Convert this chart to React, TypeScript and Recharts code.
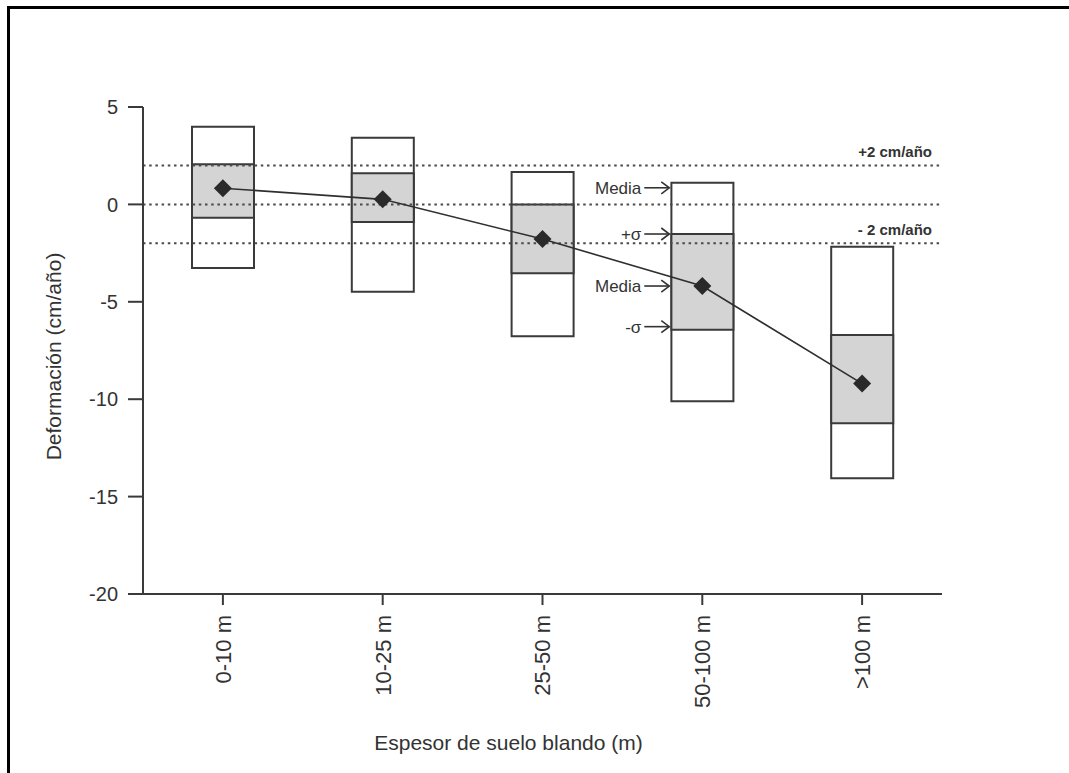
import { ComposedChart, Bar, Line, XAxis, YAxis, ReferenceLine, ReferenceDot } from 'recharts'

// soil thickness classes
const categories = ['0-10 m', '10-25 m', '25-50 m', '50-100 m', '>100 m']
// deformation (cm/año)
const maxValues = [3.99, 3.42, 1.66, 1.11, -2.17]
const plusSigma = [2.06, 1.6, 0.0, -1.52, -6.7]
const means = [0.83, 0.26, -1.78, -4.19, -9.2]
const minusSigma = [-0.68, -0.9, -3.53, -6.43, -11.23]
const minValues = [-3.26, -4.48, -6.77, -10.1, -14.06]

const yTicks = [5, 0, -5, -10, -15, -20]
const thresholds = [
  { value: 2, text: '+2 cm/año' },
  { value: 0, text: '' },
  { value: -2, text: '- 2 cm/año' },
]
// callouts next to the 50-100 m box
const noteCategory = '50-100 m'
const noteIdx = categories.indexOf(noteCategory)
const notes = [
  { text: 'Media', value: maxValues[noteIdx], shift: 5 },
  { text: '+σ', value: plusSigma[noteIdx], shift: 0 },
  { text: 'Media', value: means[noteIdx], shift: 0 },
  { text: '-σ', value: minusSigma[noteIdx], shift: -3 },
]

const data = categories.map((name, i) => ({
  name,
  range: [minValues[i], maxValues[i]],
  sigma: [minusSigma[i], plusSigma[i]],
  mean: means[i],
}))

const FONT = 'Arial, "Liberation Sans", Helvetica, sans-serif'
const INK = '#333'
const EDGE = '#3a3a3a'
const BOX_W = 62

const CategoryTick = (props: any) => {
  const { x, y, payload } = props
  return (
    <g transform={`translate(${x},${y + 8})`}>
      <text
        transform="rotate(-90)"
        textAnchor="end"
        dy="0.36em"
        fontSize={22}
        fontFamily={FONT}
        fill={INK}
      >
        {payload.value}
      </text>
    </g>
  )
}

const Diamond = (props: any) => {
  const { cx, cy, index } = props
  const r = 9
  return (
    <path
      key={`d-${index}`}
      d={`M${cx},${cy - r} L${cx + r},${cy} L${cx},${cy + r} L${cx - r},${cy} Z`}
      fill="#2a2a2a"
    />
  )
}

const Note = (text: string, shift: number) => (props: any) => {
  const { cx, cy } = props
  const left = cx - BOX_W / 2 - 2
  const y = cy + shift
  return (
    <g>
      <text x={left - 28} y={y} dy="0.36em" textAnchor="end" fontSize={17} fontFamily={FONT} fill={INK}>
        {text}
      </text>
      <line x1={left - 25} y1={y} x2={left} y2={y} stroke={INK} strokeWidth={1.6} />
      <path d={`M${left - 8},${y - 6} L${left},${y} L${left - 8},${y + 6}`} fill="none" stroke={INK} strokeWidth={1.6} />
    </g>
  )
}

const thresholdLabel = (text: string) => (props: any) => {
  const vb = props.viewBox || {}
  if (!text) return null
  return (
    <text
      x={vb.x + vb.width - 10}
      y={vb.y - 8}
      textAnchor="end"
      fontSize={15}
      fontWeight="bold"
      fontFamily={FONT}
      fill={INK}
    >
      {text}
    </text>
  )
}

const yTitle = (props: any) => {
  const vb = props.viewBox || {}
  const cx = vb.x - 10
  const cy = vb.y + vb.height / 2 + 6
  return (
    <text
      x={cx}
      y={cy}
      transform={`rotate(-90, ${cx}, ${cy})`}
      textAnchor="middle"
      dy="0.36em"
      fontSize={21}
      fontFamily={FONT}
      fill={INK}
    >
      Deformación (cm/año)
    </text>
  )
}

const xTitle = (props: any) => {
  const vb = props.viewBox || {}
  return (
    <text
      x={vb.x + vb.width / 2 - 34}
      y={vb.y + 148}
      dy="0.36em"
      textAnchor="middle"
      fontSize={21}
      fontFamily={FONT}
      fill={INK}
    >
      Espesor de suelo blando (m)
    </text>
  )
}

export default function App() {
  return (
    <div style={{ position: 'absolute', left: 0, top: 0, width: 1069, height: 773, background: '#fff' }}>
      <div
        style={{
          position: 'absolute',
          left: 7,
          top: 6,
          right: 0,
          bottom: 0,
          borderLeft: '3px solid #000',
          borderTop: '3px solid #000',
        }}
      />
      <ComposedChart
        width={1069}
        height={773}
        data={data}
        margin={{ top: 107, right: 127, bottom: 79, left: 63 }}
        barGap={0}
        style={{ position: 'absolute', left: 0, top: 0 }}
      >
        <XAxis
          xAxisId="a"
          dataKey="name"
          interval={0}
          height={100}
          tickSize={11}
          tick={<CategoryTick />}
          axisLine={{ stroke: EDGE, strokeWidth: 2 }}
          tickLine={{ stroke: EDGE, strokeWidth: 2 }}
          label={{ content: xTitle }}
        />
        <XAxis
          xAxisId="b"
          dataKey="name"
          orientation="top"
          height={0}
          tick={false}
          tickLine={false}
          axisLine={{ stroke: EDGE, strokeWidth: 2 }}
        />
        <YAxis
          type="number"
          domain={[-20, 5]}
          ticks={yTicks}
          interval={0}
          width={80}
          tickSize={15}
          tickMargin={10}
          tick={{ fontSize: 20, fontFamily: FONT, fill: INK }}
          axisLine={{ stroke: EDGE, strokeWidth: 2 }}
          tickLine={{ stroke: EDGE, strokeWidth: 2 }}
          label={{ content: yTitle }}
        />
        <YAxis
          yAxisId="r"
          orientation="right"
          type="number"
          domain={[-20, 5]}
          width={0}
          tick={false}
          tickLine={false}
          axisLine={{ stroke: EDGE, strokeWidth: 2 }}
        />
        {thresholds.map((t) => (
          <ReferenceLine
            key={t.value}
            xAxisId="a"
            y={t.value}
            stroke="#4a4a4a"
            strokeWidth={2}
            strokeDasharray="2.5 3.7"
            label={{ content: thresholdLabel(t.text) }}
          />
        ))}
        <Bar
          xAxisId="a"
          dataKey="range"
          barSize={BOX_W}
          fill="#fff"
          stroke={EDGE}
          strokeWidth={2}
          isAnimationActive={false}
        />
        <Bar
          xAxisId="b"
          dataKey="sigma"
          barSize={BOX_W}
          fill="#d4d4d4"
          stroke={EDGE}
          strokeWidth={2}
          isAnimationActive={false}
        />
        <Line
          xAxisId="a"
          dataKey="mean"
          type="linear"
          stroke="#2f2f2f"
          strokeWidth={1.6}
          dot={Diamond}
          activeDot={false}
          isAnimationActive={false}
        />
        {notes.map((n, i) => (
          <ReferenceDot
            key={i}
            xAxisId="a"
            x={noteCategory}
            y={n.value}
            r={0}
            shape={Note(n.text, n.shift)}
          />
        ))}
      </ComposedChart>
    </div>
  )
}
